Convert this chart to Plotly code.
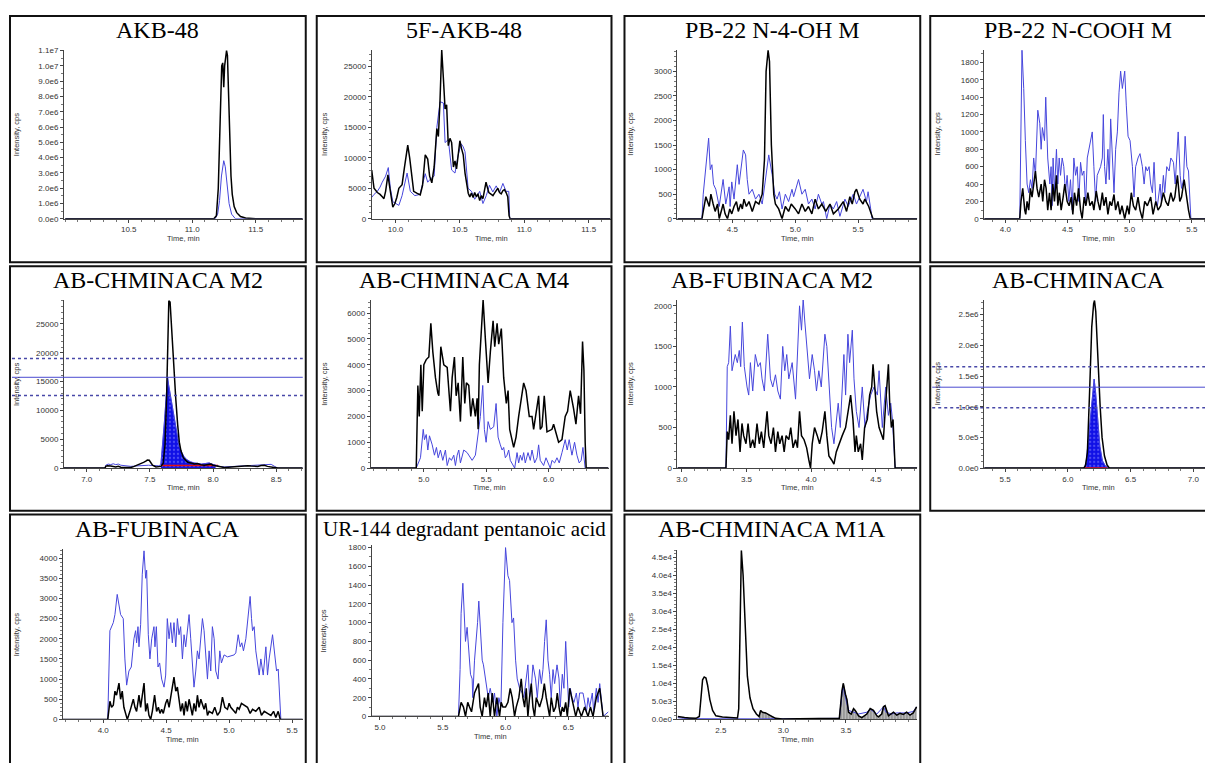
import plotly.graph_objects as go

# ======================= DATA =======================
TITLES = ["AKB-48", "5F-AKB-48", "PB-22 N-4-OH M", "PB-22 N-COOH M",
          "AB-CHMINACA M2", "AB-CHMINACA M4", "AB-FUBINACA M2", "AB-CHMINACA",
          "AB-FUBINACA", "UR-144 degradant pentanoic acid", "AB-CHMINACA M1A"]

X_RANGES = [[9.99, 11.87], [9.815, 11.67], [4.063, 5.97], [3.83, 5.67],
            [6.82, 8.71], [4.574, 6.48], [2.966, 4.82], [5.333, 7.156],
            [3.68, 5.585], [4.934, 6.82], [2.153, 4.07]]
Y_MAX = [1.107e7, 27760, 3443, 1948, 29170, 6510, 2073, 2.74e6, 4220, 1825, 4.7e4]
Y_MINOR = [5e5, 1000, 100, 100, 1000, 200, 100, 1e5, 100, 100, 1000]

X_TICKS = [[10.5, 11.0, 11.5], [10.0, 10.5, 11.0, 11.5], [4.5, 5.0, 5.5], [4.0, 4.5, 5.0, 5.5],
           [7.0, 7.5, 8.0, 8.5], [5.0, 5.5, 6.0], [3.0, 3.5, 4.0, 4.5], [5.5, 6.0, 6.5, 7.0],
           [4.0, 4.5, 5.0, 5.5], [5.0, 5.5, 6.0, 6.5], [2.5, 3.0, 3.5]]
X_TICK_LABELS = [["10.5", "11.0", "11.5"], ["10.0", "10.5", "11.0", "11.5"], ["4.5", "5.0", "5.5"],
                 ["4.0", "4.5", "5.0", "5.5"], ["7.0", "7.5", "8.0", "8.5"], ["5.0", "5.5", "6.0"],
                 ["3.0", "3.5", "4.0", "4.5"], ["5.5", "6.0", "6.5", "7.0"], ["4.0", "4.5", "5.0", "5.5"],
                 ["5.0", "5.5", "6.0", "6.5"], ["2.5", "3.0", "3.5"]]

Y_TICKS = [[0, 1e6, 2e6, 3e6, 4e6, 5e6, 6e6, 7e6, 8e6, 9e6, 1e7, 1.1e7],
           [0, 5000, 10000, 15000, 20000, 25000],
           [0, 500, 1000, 1500, 2000, 2500, 3000],
           [0, 200, 400, 600, 800, 1000, 1200, 1400, 1600, 1800],
           [0, 5000, 10000, 15000, 20000, 25000],
           [0, 1000, 2000, 3000, 4000, 5000, 6000],
           [0, 500, 1000, 1500, 2000],
           [0, 5e5, 1e6, 1.5e6, 2e6, 2.5e6],
           [0, 500, 1000, 1500, 2000, 2500, 3000, 3500, 4000],
           [0, 200, 400, 600, 800, 1000, 1200, 1400, 1600, 1800],
           [0, 5e3, 1e4, 1.5e4, 2e4, 2.5e4, 3e4, 3.5e4, 4e4, 4.5e4]]
Y_TICK_LABELS = [["0.0e0", "1.0e6", "2.0e6", "3.0e6", "4.0e6", "5.0e6", "6.0e6", "7.0e6", "8.0e6", "9.0e6", "1.0e7", "1.1e7"],
                 ["0", "5000", "10000", "15000", "20000", "25000"],
                 ["0", "500", "1000", "1500", "2000", "2500", "3000"],
                 ["0", "200", "400", "600", "800", "1000", "1200", "1400", "1600", "1800"],
                 ["0", "5000", "10000", "15000", "20000", "25000"],
                 ["0", "1000", "2000", "3000", "4000", "5000", "6000"],
                 ["0", "500", "1000", "1500", "2000"],
                 ["0.0e0", "5.0e5", "1.0e6", "1.5e6", "2.0e6", "2.5e6"],
                 ["0", "500", "1000", "1500", "2000", "2500", "3000", "3500", "4000"],
                 ["0", "200", "400", "600", "800", "1000", "1200", "1400", "1600", "1800"],
                 ["0.0e0", "5.0e3", "1.0e4", "1.5e4", "2.0e4", "2.5e4", "3.0e4", "3.5e4", "4.0e4", "4.5e4"]]

# (time [min], intensity [cps]) pairs
AKB48_BLACK = [(10.0, 0), (11.17, 0), (11.19, 2e5), (11.205, 2.0e6), (11.22, 6.5e6), (11.232, 1.0e7),
               (11.24, 1.02e7), (11.248, 8.6e6), (11.255, 1.0e7), (11.263, 1.06e7), (11.27, 1.1e7),
               (11.277, 1.07e7), (11.285, 8.5e6), (11.295, 5.0e6), (11.305, 2.8e6), (11.315, 1.6e6),
               (11.33, 8e5), (11.35, 4e5), (11.38, 1.5e5), (11.42, 5e4), (11.5, 0), (11.87, 0)]
AKB48_BLUE = [(10.0, 0), (11.18, 0), (11.2, 3e5), (11.215, 1.2e6), (11.23, 2.8e6), (11.24, 3.6e6),
              (11.248, 3.8e6), (11.26, 3.4e6), (11.275, 2.2e6), (11.29, 1.0e6), (11.31, 3e5),
              (11.34, 0), (11.87, 0)]

F5AKB_BLACK = [(9.815, 8000), (9.833, 5000), (9.859, 4300), (9.88, 4000), (9.897, 3600), (9.91, 3300),
               (9.923, 4500), (9.941, 7200), (9.955, 5200), (9.979, 1900), (9.995, 2500), (10.01, 3500),
               (10.026, 5000), (10.051, 5600), (10.07, 8500), (10.095, 12100), (10.11, 10000),
               (10.125, 7000), (10.141, 4500), (10.165, 4200), (10.192, 3900), (10.21, 5500),
               (10.231, 10500), (10.25, 9800), (10.265, 7000), (10.282, 5900), (10.3, 8500),
               (10.321, 14800), (10.333, 13500), (10.345, 19000), (10.359, 27700), (10.372, 23000),
               (10.385, 18000), (10.397, 18700), (10.41, 12000), (10.423, 13200), (10.436, 12500),
               (10.45, 8500), (10.462, 9500), (10.474, 8200), (10.487, 11000), (10.5, 12800),
               (10.513, 11500), (10.526, 10500), (10.54, 7500), (10.555, 5000), (10.565, 4200),
               (10.577, 3600), (10.59, 4200), (10.603, 3500), (10.615, 4300), (10.628, 3600),
               (10.64, 4100), (10.654, 3000), (10.666, 3800), (10.679, 3300), (10.692, 4500),
               (10.703, 6000), (10.713, 5200), (10.725, 4300), (10.744, 4000), (10.757, 3800),
               (10.769, 4200), (10.782, 4700), (10.795, 5000), (10.808, 4300), (10.821, 4100),
               (10.834, 4600), (10.846, 4800), (10.859, 4300), (10.872, 3600), (10.882, 500),
               (10.89, 0), (11.67, 0)]
F5AKB_BLUE = [(9.815, 3500), (9.833, 4000), (9.859, 4500), (9.88, 5200), (9.897, 6000), (9.923, 7000),
              (9.944, 8400), (9.96, 5000), (9.979, 2800), (10.0, 2500), (10.026, 2200), (10.051, 3800),
              (10.07, 5500), (10.09, 7500), (10.115, 4500), (10.15, 3800), (10.19, 4000), (10.21, 5500),
              (10.231, 7400), (10.25, 6000), (10.27, 6500), (10.3, 7000), (10.321, 15000),
              (10.346, 19200), (10.372, 19000), (10.385, 12500), (10.41, 13000), (10.436, 8000),
              (10.462, 7500), (10.487, 10500), (10.51, 12300), (10.526, 11800), (10.54, 11000),
              (10.564, 5000), (10.59, 4500), (10.615, 3200), (10.654, 4500), (10.679, 2500),
              (10.705, 3800), (10.73, 5500), (10.756, 4400), (10.782, 5400), (10.808, 4300),
              (10.834, 5800), (10.859, 4500), (10.88, 4500), (10.887, 0), (11.67, 0)]

PB22OH_BLACK = [(4.063, 0), (4.258, 0), (4.268, 150), (4.289, 450), (4.316, 250), (4.329, 500),
                (4.347, 300), (4.363, 150), (4.382, 300), (4.395, 0), (4.416, 200), (4.426, 300),
                (4.442, 100), (4.461, 0), (4.479, 200), (4.495, 100), (4.513, 250), (4.532, 350),
                (4.547, 150), (4.566, 300), (4.579, 200), (4.592, 400), (4.611, 250), (4.632, 350),
                (4.658, 150), (4.684, 350), (4.711, 300), (4.737, 500), (4.755, 1200), (4.768, 3000),
                (4.784, 3430), (4.795, 3200), (4.81, 1500), (4.829, 500), (4.842, 300), (4.868, 200),
                (4.895, 0), (4.921, 250), (4.947, 150), (4.968, 300), (5.0, 200), (5.026, 100),
                (5.053, 300), (5.079, 150), (5.105, 250), (5.132, 100), (5.158, 400), (5.184, 200),
                (5.211, 300), (5.242, 150), (5.276, 300), (5.303, 100), (5.342, 200), (5.382, 350),
                (5.408, 150), (5.434, 450), (5.453, 300), (5.474, 550), (5.487, 600), (5.513, 400),
                (5.539, 300), (5.553, 400), (5.584, 250), (5.605, 100), (5.618, 0), (5.97, 0)]
PB22OH_BLUE = [(4.063, 0), (4.258, 0), (4.268, 500), (4.311, 1640), (4.324, 1000), (4.337, 1100),
               (4.35, 700), (4.368, 600), (4.395, 250), (4.426, 800), (4.447, 300), (4.474, 650),
               (4.482, 250), (4.495, 750), (4.513, 400), (4.539, 1100), (4.553, 700), (4.587, 1400),
               (4.605, 1300), (4.618, 800), (4.632, 500), (4.658, 600), (4.684, 400), (4.711, 500),
               (4.737, 300), (4.763, 800), (4.789, 1300), (4.816, 900), (4.837, 500), (4.855, 400),
               (4.874, 550), (4.895, 200), (4.921, 500), (4.947, 350), (4.974, 600), (4.987, 450),
               (5.026, 800), (5.053, 500), (5.079, 600), (5.105, 300), (5.132, 400), (5.158, 200),
               (5.184, 500), (5.211, 300), (5.224, 350), (5.25, 0), (5.276, 300), (5.303, 200),
               (5.329, 350), (5.355, 50), (5.395, 400), (5.421, 250), (5.461, 500), (5.487, 300),
               (5.539, 600), (5.566, 350), (5.579, 550), (5.6, 200), (5.611, 0), (5.97, 0)]

PB22COOH_BLACK = [(3.83, 0), (4.116, 0), (4.126, 200), (4.140, 350), (4.156, 100), (4.164, 50),
                  (4.175, 200), (4.188, 100), (4.202, 350), (4.215, 250), (4.242, 550), (4.255, 350),
                  (4.269, 250), (4.288, 400), (4.301, 200), (4.315, 450), (4.328, 350), (4.341, 100),
                  (4.355, 300), (4.368, 100), (4.382, 400), (4.395, 200), (4.411, 500), (4.422, 150),
                  (4.435, 300), (4.449, 100), (4.465, 250), (4.478, 400), (4.497, 200), (4.513, 150),
                  (4.530, 250), (4.543, 50), (4.556, 300), (4.573, 150), (4.589, 350), (4.605, 100),
                  (4.618, 0), (4.634, 250), (4.648, 150), (4.664, 300), (4.680, 150), (4.699, 200),
                  (4.712, 100), (4.731, 320), (4.745, 200), (4.761, 100), (4.780, 300), (4.793, 150),
                  (4.809, 250), (4.825, 50), (4.841, 200), (4.855, 150), (4.874, 280), (4.887, 100),
                  (4.906, 200), (4.922, 50), (4.938, 150), (4.960, 0), (4.981, 150), (4.995, 50),
                  (5.013, 300), (5.030, 150), (5.048, 100), (5.067, 250), (5.083, 100), (5.102, 0),
                  (5.121, 200), (5.142, 150), (5.169, 250), (5.188, 50), (5.210, 200), (5.228, 100),
                  (5.250, 150), (5.271, 300), (5.290, 200), (5.309, 150), (5.331, 300), (5.349, 200),
                  (5.363, 250), (5.384, 500), (5.403, 200), (5.417, 250), (5.438, 450), (5.457, 250),
                  (5.473, 100), (5.487, 0), (5.67, 0)]
PB22COOH_BLUE = [(3.83, 0), (4.116, 0), (4.134, 1940), (4.148, 1500), (4.161, 900), (4.175, 400),
                 (4.188, 300), (4.202, 450), (4.215, 350), (4.228, 700), (4.242, 500), (4.261, 1250),
                 (4.277, 1100), (4.288, 800), (4.298, 1050), (4.315, 900), (4.325, 1400), (4.341, 700),
                 (4.358, 400), (4.368, 600), (4.376, 150), (4.384, 700), (4.395, 300), (4.411, 800),
                 (4.422, 400), (4.433, 700), (4.444, 500), (4.457, 700), (4.470, 600), (4.484, 300),
                 (4.497, 500), (4.511, 200), (4.524, 450), (4.538, 100), (4.551, 700), (4.565, 500),
                 (4.578, 600), (4.591, 200), (4.605, 650), (4.618, 500), (4.632, 550), (4.645, 150),
                 (4.659, 700), (4.672, 800), (4.699, 1000), (4.712, 600), (4.726, 200), (4.739, 500),
                 (4.766, 600), (4.780, 700), (4.788, 1200), (4.798, 600), (4.809, 400), (4.825, 800),
                 (4.836, 450), (4.847, 1150), (4.863, 500), (4.874, 300), (4.887, 800), (4.901, 1000),
                 (4.914, 1450), (4.927, 1700), (4.941, 1500), (4.960, 1700), (4.973, 1300),
                 (4.987, 950), (5.003, 900), (5.022, 600), (5.035, 250), (5.048, 600), (5.067, 700),
                 (5.083, 750), (5.102, 600), (5.116, 400), (5.129, 600), (5.142, 550), (5.156, 600),
                 (5.169, 400), (5.183, 300), (5.196, 650), (5.210, 200), (5.223, 150), (5.245, 400),
                 (5.255, 200), (5.271, 500), (5.282, 300), (5.298, 600), (5.317, 550), (5.331, 700),
                 (5.352, 650), (5.366, 400), (5.390, 1000), (5.406, 500), (5.417, 350), (5.433, 450),
                 (5.446, 950), (5.460, 600), (5.473, 550), (5.492, 0), (5.67, 0)]

CHM_M2_BLACK = [(6.82, 0), (7.145, 0), (7.151, 300), (7.164, 400), (7.19, 350), (7.21, 300), (7.23, 200),
                (7.25, 300), (7.27, 150), (7.30, 100), (7.323, 150), (7.35, 100), (7.376, 300),
                (7.40, 500), (7.429, 700), (7.45, 1000), (7.468, 1200), (7.48, 1400), (7.495, 1350),
                (7.51, 900), (7.521, 500), (7.548, 200), (7.57, 250), (7.587, 300), (7.605, 800),
                (7.62, 4000), (7.632, 12000), (7.642, 22000), (7.65, 29000), (7.66, 28800),
                (7.667, 26000), (7.68, 22000), (7.693, 17000), (7.705, 12000), (7.72, 7500),
                (7.733, 4500), (7.746, 3000), (7.765, 1800), (7.786, 1300), (7.80, 1000), (7.825, 900),
                (7.85, 700), (7.878, 800), (7.90, 600), (7.93, 500), (7.958, 600), (7.984, 700),
                (8.00, 500), (8.037, 300), (8.06, 200), (8.09, 100), (8.12, 150), (8.143, 200),
                (8.18, 250), (8.21, 300), (8.24, 350), (8.275, 400), (8.30, 350), (8.33, 250),
                (8.354, 300), (8.38, 450), (8.407, 500), (8.43, 300), (8.46, 200), (8.487, 100),
                (8.513, 0), (8.71, 0)]
CHM_M2_BLUE = [(6.82, 0), (7.145, 0), (7.151, 500), (7.17, 700), (7.19, 600), (7.21, 750), (7.23, 600),
               (7.25, 700), (7.27, 500), (7.30, 400), (7.323, 350), (7.35, 300), (7.376, 350),
               (7.40, 400), (7.429, 450), (7.46, 500), (7.49, 500), (7.52, 450), (7.548, 400),
               (7.57, 400), (7.587, 600), (7.60, 3500), (7.615, 8000), (7.628, 12000), (7.64, 15800),
               (7.648, 14500), (7.66, 13000), (7.675, 11000), (7.693, 8500), (7.71, 6000),
               (7.73, 4000), (7.75, 2800), (7.77, 2000), (7.79, 1500), (7.82, 1100), (7.85, 900),
               (7.878, 800), (7.91, 700), (7.94, 800), (7.97, 900), (7.99, 700), (8.02, 500),
               (8.05, 300), (8.09, 200), (8.14, 250), (8.2, 300), (8.26, 400), (8.32, 450),
               (8.38, 500), (8.42, 600), (8.46, 650), (8.487, 300), (8.513, 0), (8.71, 0)]
CHM_M2_LIMITS = [19000, 15750, 12580]          # upper / expected / lower ion ratio lines
CHM_M2_PEAK = [(7.587, 450), (8.04, 450)]      # integration baseline (start, end)

CHM_M4_BLACK = [(4.574, 0), (4.939, 0), (4.952, 3200), (4.963, 2000), (4.976, 4000), (4.987, 2200),
                (5.0, 4000), (5.019, 4200), (5.04, 4300), (5.056, 5600), (5.072, 4500), (5.093, 3500),
                (5.112, 2900), (5.12, 2800), (5.136, 4700), (5.16, 4000), (5.187, 3900), (5.213, 2200),
                (5.227, 3500), (5.245, 4300), (5.259, 2800), (5.275, 3300), (5.293, 1800),
                (5.312, 4300), (5.328, 2500), (5.341, 3300), (5.36, 3200), (5.376, 2000),
                (5.392, 2700), (5.413, 2000), (5.427, 2700), (5.435, 1500), (5.445, 4000),
                (5.459, 5000), (5.475, 6500), (5.493, 5000), (5.515, 3300), (5.533, 4500),
                (5.555, 5700), (5.568, 4700), (5.587, 5600), (5.6, 4800), (5.621, 5400), (5.64, 3500),
                (5.661, 2500), (5.675, 3000), (5.688, 1500), (5.72, 800), (5.739, 1200), (5.76, 2000),
                (5.8, 3300), (5.819, 3000), (5.845, 2000), (5.867, 2000), (5.88, 1500), (5.92, 2800),
                (5.933, 1500), (5.947, 1600), (5.965, 2800), (5.987, 1400), (6.027, 1500),
                (6.04, 1700), (6.08, 1000), (6.107, 1100), (6.133, 2000), (6.152, 2200),
                (6.173, 3000), (6.2, 2300), (6.219, 1700), (6.24, 2800), (6.256, 2100), (6.272, 4900),
                (6.283, 3800), (6.293, 1000), (6.301, 0), (6.48, 0)]
CHM_M4_BLUE = [(4.574, 0), (4.939, 0), (4.973, 400), (4.995, 1500), (5.005, 1100), (5.019, 1300),
               (5.032, 700), (5.045, 1250), (5.067, 900), (5.085, 500), (5.101, 800), (5.115, 400),
               (5.133, 700), (5.152, 300), (5.173, 700), (5.187, 100), (5.205, 400), (5.221, 300),
               (5.24, 500), (5.253, 100), (5.267, 500), (5.28, 700), (5.293, 200), (5.307, 500),
               (5.32, 700), (5.347, 600), (5.373, 400), (5.387, 300), (5.413, 500), (5.44, 1500),
               (5.453, 2000), (5.472, 3200), (5.485, 1500), (5.499, 1000), (5.515, 1800),
               (5.533, 1500), (5.56, 1600), (5.579, 2500), (5.595, 1200), (5.613, 900), (5.627, 700),
               (5.64, 800), (5.653, 400), (5.667, 500), (5.68, 700), (5.693, 300), (5.728, 0),
               (5.747, 600), (5.76, 200), (5.773, 500), (5.787, 300), (5.8, 600), (5.813, 200),
               (5.835, 600), (5.853, 300), (5.867, 700), (5.888, 200), (5.907, 400), (5.92, 900),
               (5.933, 300), (5.96, 100), (5.979, 400), (5.995, 200), (6.013, 0), (6.027, 300),
               (6.048, 200), (6.067, 400), (6.085, 200), (6.107, 600), (6.133, 1100), (6.149, 700),
               (6.165, 1100), (6.187, 500), (6.208, 1000), (6.227, 500), (6.245, 200), (6.261, 300),
               (6.275, 800), (6.293, 0), (6.48, 0)]

FUB_M2_BLACK = [(2.966, 0), (3.341, 0), (3.351, 450), (3.362, 350), (3.375, 650), (3.388, 300),
                (3.403, 700), (3.419, 400), (3.434, 600), (3.45, 200), (3.465, 550), (3.478, 400),
                (3.496, 300), (3.512, 550), (3.53, 250), (3.548, 350), (3.563, 250), (3.581, 550),
                (3.599, 300), (3.615, 450), (3.633, 250), (3.659, 700), (3.672, 400), (3.69, 300),
                (3.708, 500), (3.724, 200), (3.742, 450), (3.757, 300), (3.775, 400), (3.791, 200),
                (3.806, 400), (3.827, 350), (3.842, 500), (3.86, 250), (3.879, 350), (3.894, 250),
                (3.91, 700), (3.925, 400), (3.945, 350), (3.965, 250), (3.982, 100), (3.995, 0),
                (4.008, 300), (4.026, 500), (4.047, 400), (4.065, 300), (4.085, 450), (4.106, 700),
                (4.121, 400), (4.137, 150), (4.158, 100), (4.176, 50), (4.194, 200), (4.214, 300),
                (4.24, 400), (4.266, 500), (4.292, 800), (4.305, 900), (4.323, 600), (4.339, 200),
                (4.349, 400), (4.364, 200), (4.382, 300), (4.395, 100), (4.413, 500), (4.434, 600),
                (4.452, 900), (4.468, 1000), (4.478, 1280), (4.494, 900), (4.506, 700), (4.525, 500),
                (4.543, 400), (4.558, 350), (4.576, 800), (4.597, 1280), (4.607, 800), (4.62, 500),
                (4.633, 600), (4.649, 0), (4.82, 0)]
FUB_M2_BLUE = [(2.966, 0), (3.341, 0), (3.351, 1250), (3.362, 1300), (3.375, 1750), (3.388, 1200),
               (3.413, 1400), (3.429, 1300), (3.444, 1450), (3.455, 1250), (3.468, 1800),
               (3.483, 1250), (3.504, 1000), (3.517, 900), (3.53, 1300), (3.548, 950), (3.568, 1400),
               (3.589, 1250), (3.607, 1300), (3.62, 1100), (3.638, 950), (3.664, 1650), (3.685, 1100),
               (3.703, 1000), (3.724, 1150), (3.742, 950), (3.762, 850), (3.78, 1500), (3.796, 1200),
               (3.811, 1400), (3.827, 1100), (3.853, 1300), (3.879, 850), (3.91, 2000), (3.925, 1700),
               (3.938, 2080), (3.951, 1800), (3.969, 1400), (3.987, 1100), (4.008, 1400),
               (4.026, 1200), (4.041, 950), (4.059, 1200), (4.078, 1000), (4.106, 1650),
               (4.121, 1500), (4.137, 1000), (4.158, 500), (4.176, 300), (4.194, 600), (4.209, 800),
               (4.225, 500), (4.253, 1400), (4.266, 900), (4.284, 1650), (4.297, 1300), (4.318, 1700),
               (4.331, 1100), (4.349, 700), (4.37, 500), (4.395, 1000), (4.416, 500), (4.434, 700),
               (4.46, 900), (4.486, 1000), (4.512, 900), (4.525, 1200), (4.55, 500), (4.576, 1000),
               (4.597, 650), (4.615, 800), (4.628, 600), (4.649, 0), (4.82, 0)]

CHM_BLACK = [(5.333, 0), (6.125, 0), (6.14, 4e4), (6.155, 2.5e5), (6.172, 1.2e6), (6.19, 2.3e6),
             (6.205, 2.68e6), (6.212, 2.73e6), (6.222, 2.55e6), (6.238, 1.8e6), (6.257, 1.0e6),
             (6.272, 5e5), (6.291, 2e5), (6.312, 5e4), (6.331, 0), (7.156, 0)]
CHM_BLUE = [(5.333, 0), (6.13, 0), (6.146, 1e5), (6.165, 5e5), (6.19, 1.05e6), (6.209, 1.45e6),
            (6.22, 1.25e6), (6.235, 8e5), (6.255, 3.5e5), (6.275, 1.2e5), (6.30, 3e4), (6.331, 0),
            (7.156, 0)]
CHM_LIMITS = [1.65e6, 1.318e6, 0.984e6]
CHM_PEAK = [(6.13, 0), (6.335, 0)]

FUB_BLACK = [(3.68, 0), (4.036, 0), (4.053, 450), (4.066, 300), (4.08, 350), (4.093, 700), (4.106, 600),
             (4.125, 900), (4.138, 500), (4.151, 700), (4.164, 300), (4.178, 100), (4.191, 0),
             (4.212, 200), (4.239, 500), (4.252, 300), (4.265, 200), (4.284, 600), (4.297, 300),
             (4.324, 900), (4.337, 200), (4.35, 400), (4.363, 100), (4.377, 0), (4.39, 200),
             (4.408, 600), (4.424, 200), (4.438, 300), (4.451, 150), (4.464, 250), (4.477, 150),
             (4.496, 400), (4.509, 500), (4.523, 300), (4.536, 600), (4.549, 800), (4.562, 1050),
             (4.576, 700), (4.589, 800), (4.602, 500), (4.615, 200), (4.629, 400), (4.642, 100),
             (4.655, 450), (4.668, 200), (4.682, 500), (4.695, 300), (4.708, 100), (4.721, 400),
             (4.735, 200), (4.748, 600), (4.761, 300), (4.775, 500), (4.788, 400), (4.801, 250),
             (4.814, 400), (4.828, 100), (4.841, 200), (4.867, 150), (4.886, 300), (4.907, 100),
             (4.928, 200), (4.947, 550), (4.966, 300), (4.987, 250), (5.0, 400), (5.013, 300),
             (5.04, 200), (5.053, 150), (5.066, 300), (5.08, 250), (5.098, 400), (5.119, 350),
             (5.146, 300), (5.167, 150), (5.186, 250), (5.212, 200), (5.239, 300), (5.257, 100),
             (5.279, 200), (5.305, 150), (5.332, 100), (5.353, 200), (5.371, 50), (5.39, 200),
             (5.406, 0), (5.585, 0)]
FUB_BLUE = [(3.68, 0), (4.036, 0), (4.053, 2200), (4.08, 2400), (4.093, 2600), (4.111, 3100),
            (4.138, 2600), (4.159, 2500), (4.172, 1500), (4.186, 850), (4.204, 1200), (4.223, 1300),
            (4.244, 2000), (4.257, 2200), (4.265, 1900), (4.276, 2300), (4.284, 1800), (4.297, 2350),
            (4.31, 3600), (4.324, 4180), (4.337, 3500), (4.345, 3700), (4.358, 2100), (4.371, 1500),
            (4.385, 2000), (4.403, 2300), (4.411, 1800), (4.422, 2300), (4.435, 1300), (4.448, 1400),
            (4.464, 1000), (4.483, 800), (4.496, 1100), (4.509, 2500), (4.523, 2000), (4.536, 2400),
            (4.549, 1900), (4.562, 2400), (4.576, 1800), (4.589, 2500), (4.602, 2100), (4.615, 2300),
            (4.629, 1500), (4.642, 2100), (4.655, 1800), (4.682, 2600), (4.695, 2000), (4.708, 1400),
            (4.721, 800), (4.735, 1200), (4.748, 1700), (4.761, 1500), (4.788, 2500), (4.801, 2200),
            (4.814, 1500), (4.828, 1000), (4.841, 1700), (4.854, 1200), (4.867, 2300), (4.881, 2000),
            (4.894, 1200), (4.912, 1000), (4.926, 1700), (4.939, 1400), (4.96, 1600), (4.987, 1550),
            (5.04, 1600), (5.053, 1650), (5.072, 2100), (5.088, 1800), (5.101, 1900), (5.114, 1700),
            (5.133, 2000), (5.159, 2900), (5.167, 3050), (5.178, 2500), (5.186, 2200), (5.199, 2300),
            (5.212, 1700), (5.239, 1100), (5.252, 1500), (5.271, 1100), (5.292, 1800), (5.305, 1100),
            (5.318, 1500), (5.345, 2100), (5.363, 1600), (5.377, 1200), (5.39, 1250), (5.411, 0),
            (5.585, 0)]

UR144_BLACK = [(4.934, 0), (5.625, 0), (5.646, 150), (5.665, 100), (5.681, 0), (5.699, 150),
               (5.713, 100), (5.729, 50), (5.753, 250), (5.766, 300), (5.785, 350), (5.798, 100),
               (5.814, 0), (5.832, 200), (5.846, 100), (5.862, 250), (5.878, 0), (5.894, 250),
               (5.912, 0), (5.931, 200), (5.952, 0), (5.965, 150), (5.979, 100), (6.0, 100),
               (6.019, 150), (6.037, 300), (6.053, 200), (6.072, 0), (6.085, 100), (6.106, 200),
               (6.125, 400), (6.138, 200), (6.152, 100), (6.165, 300), (6.178, 0), (6.191, 200),
               (6.205, 350), (6.218, 100), (6.231, 0), (6.245, 200), (6.271, 100), (6.293, 200),
               (6.309, 350), (6.324, 200), (6.338, 100), (6.351, 0), (6.364, 200), (6.383, 50),
               (6.399, 100), (6.412, 250), (6.426, 100), (6.439, 0), (6.452, 100), (6.465, 50),
               (6.479, 150), (6.492, 0), (6.511, 300), (6.529, 200), (6.545, 100), (6.559, 0),
               (6.577, 100), (6.604, 0), (6.63, 100), (6.657, 0), (6.676, 100), (6.697, 0),
               (6.723, 200), (6.75, 300), (6.777, 0), (6.82, 0)]
UR144_BLUE = [(4.934, 0), (5.625, 0), (5.638, 500), (5.646, 1100), (5.66, 1420), (5.673, 1100),
              (5.681, 800), (5.694, 950), (5.705, 700), (5.721, 450), (5.734, 400), (5.739, 200),
              (5.753, 600), (5.766, 800), (5.777, 1000), (5.787, 1230), (5.798, 1000), (5.814, 600),
              (5.824, 550), (5.84, 400), (5.851, 350), (5.862, 200), (5.878, 300), (5.899, 150),
              (5.912, 250), (5.931, 0), (5.947, 200), (5.963, 100), (5.979, 1000), (6.0, 1800),
              (6.019, 1500), (6.032, 1450), (6.051, 1000), (6.064, 1050), (6.08, 600), (6.093, 400),
              (6.112, 300), (6.133, 250), (6.146, 200), (6.165, 400), (6.178, 550), (6.191, 200),
              (6.205, 300), (6.218, 550), (6.239, 400), (6.253, 200), (6.271, 500), (6.285, 350),
              (6.298, 500), (6.311, 800), (6.324, 1030), (6.338, 600), (6.351, 450), (6.364, 200),
              (6.378, 500), (6.391, 350), (6.41, 550), (6.426, 400), (6.436, 100), (6.452, 450),
              (6.465, 300), (6.479, 800), (6.492, 400), (6.503, 100), (6.516, 300), (6.529, 200),
              (6.545, 150), (6.564, 250), (6.577, 100), (6.59, 250), (6.617, 250), (6.63, 150),
              (6.644, 50), (6.657, 200), (6.67, 100), (6.691, 250), (6.702, 50), (6.723, 300),
              (6.737, 150), (6.75, 350), (6.777, 0), (6.82, 50)]

M1A_BLACK = [(2.155, 800), (2.18, 600), (2.21, 500), (2.248, 400), (2.28, 300), (2.301, 300),
             (2.328, 800), (2.341, 6000), (2.354, 11000), (2.367, 11800), (2.381, 11500),
             (2.394, 9500), (2.412, 5500), (2.434, 2500), (2.46, 1000), (2.513, 700), (2.58, 500),
             (2.633, 400), (2.643, 3000), (2.651, 20000), (2.664, 47000), (2.678, 40000),
             (2.694, 25000), (2.712, 12000), (2.733, 6000), (2.757, 3000), (2.784, 1500),
             (2.805, 800), (2.818, 2500), (2.832, 2000), (2.858, 1800), (2.885, 1200), (2.911, 800),
             (2.938, 300), (2.991, 100), (3.123, 200), (3.256, 300), (3.389, 200), (3.447, 300),
             (3.468, 8000), (3.479, 10000), (3.496, 7000), (3.508, 5500), (3.521, 2000),
             (3.542, 1500), (3.561, 3000), (3.574, 2500), (3.601, 1000), (3.627, 500), (3.667, 1500),
             (3.694, 3000), (3.72, 2500), (3.747, 1000), (3.76, 700), (3.786, 1500), (3.8, 3500),
             (3.813, 3800), (3.84, 1000), (3.866, 1500), (3.88, 2000), (3.906, 1200), (3.932, 1700),
             (3.959, 1400), (3.985, 2000), (4.012, 1200), (4.038, 1800), (4.065, 3500)]
M1A_BLUE = [(2.155, 500), (2.2, 300), (2.3, 200), (2.4, 150), (2.6, 150), (2.8, 150), (3.0, 200),
            (3.2, 250), (3.4, 200), (3.447, 300), (3.468, 7000), (3.479, 9000), (3.496, 6000),
            (3.521, 2500), (3.561, 2000), (3.6, 1500), (3.667, 2000), (3.694, 2800), (3.747, 1500),
            (3.8, 3500), (3.82, 2000), (3.866, 1500), (3.906, 1800), (3.95, 1800), (3.985, 1800),
            (4.038, 2200), (4.065, 3500)]
M1A_HATCH = [(2.805, 2.96), (3.447, 4.07)]   # time windows drawn hatched

SERIES = [(AKB48_BLUE, AKB48_BLACK), (F5AKB_BLUE, F5AKB_BLACK), (PB22OH_BLUE, PB22OH_BLACK),
          (PB22COOH_BLUE, PB22COOH_BLACK), (CHM_M2_BLUE, CHM_M2_BLACK), (CHM_M4_BLUE, CHM_M4_BLACK),
          (FUB_M2_BLUE, FUB_M2_BLACK), (CHM_BLUE, CHM_BLACK), (FUB_BLUE, FUB_BLACK),
          (UR144_BLUE, UR144_BLACK), (M1A_BLUE, M1A_BLACK)]

# ======================= LAYOUT (page pixels) =======================
PAGE_W, PAGE_H = 1213, 763
OFF = 8                        # default body margin of the written page
W, H = PAGE_W - OFF, PAGE_H - OFF
PLOT_BOXES = [(63, 302, 47, 218), (371, 610, 47, 218), (677, 917, 47, 218), (984, 1213, 47, 218),
              (63, 302, 300, 470), (370, 608, 300, 470), (677, 917, 300, 470), (984, 1213, 300, 470),
              (62, 302, 552, 724), (371, 608, 548, 721), (677, 917, 553, 724)]
COL_X = [(9, 305), (316, 611), (624, 920), (930, 1226)]
ROW_Y = [(13, 262), (266, 513), (517, 775)]
TITLE_Y = [27, 280, 531.5]
TITLE_SIZE = [24, 24, 24, 24, 24, 24, 24, 24, 24, 21, 24]
YLABEL_X = [15, 323, 630, 937]

BLUE = "#4646dc"
BLACK = "#000000"
AX = "#444444"
TICKFONT = dict(family="Liberation Sans, Arial, sans-serif", size=8, color="#333333")
LABELFONT = dict(family="Liberation Sans, Arial, sans-serif", size=7.5, color="#333333")


def px(x):
    return (x - OFF) / W


def py(y):
    return 1 - (y - OFF) / H


def xs(pairs):
    return [p[0] for p in pairs]


def ys(pairs):
    return [p[1] for p in pairs]


fig = go.Figure()
layout = dict(width=W, height=H, margin=dict(l=0, r=0, t=0, b=0),
              paper_bgcolor="white", plot_bgcolor="white", showlegend=False)
shapes = []
annotations = []

for i in range(11):
    l, r, t, b = PLOT_BOXES[i]
    row, col = divmod(i, 4)
    sfx = "" if i == 0 else str(i + 1)
    xref, yref = "x" + sfx, "y" + sfx
    layout["xaxis" + sfx] = dict(
        domain=[max(0, px(l)), min(1, px(r))], range=X_RANGES[i], anchor=yref, showgrid=False,
        zeroline=False, showline=True, linecolor=AX, linewidth=1, ticks="outside", ticklen=3,
        tickcolor=AX, tickvals=X_TICKS[i], ticktext=X_TICK_LABELS[i], tickfont=TICKFONT,
        minor=dict(ticks="outside", ticklen=2, tickcolor="#777777", dtick=0.1, tick0=0),
        fixedrange=True)
    layout["yaxis" + sfx] = dict(
        domain=[max(0, py(b)), min(1, py(t))], range=[0, Y_MAX[i]], anchor=xref, showgrid=False,
        zeroline=False, showline=True, linecolor=AX, linewidth=1, ticks="outside", ticklen=3,
        tickcolor=AX, tickvals=Y_TICKS[i], ticktext=Y_TICK_LABELS[i], tickfont=TICKFONT,
        minor=dict(ticks="outside", ticklen=2, tickcolor="#777777", dtick=Y_MINOR[i], tick0=0),
        fixedrange=True)

    blue, black = SERIES[i]

    # integrated peak (blue dotted fill + red baseline)
    if i in (4, 7):
        peak = CHM_M2_PEAK if i == 4 else CHM_PEAK
        t0, t1 = peak[0][0], peak[1][0]
        sel = [p for p in blue if t0 <= p[0] <= t1]
        fig.add_trace(go.Scatter(x=xs(sel), y=ys(sel), xaxis=xref, yaxis=yref, mode="lines",
                                 line=dict(color="#1010e6", width=0.5), fill="tozeroy",
                                 fillcolor="#1010e6",
                                 fillpattern=dict(shape=".", bgcolor="#1010e6", fgcolor="#8a8aff",
                                                  size=4, solidity=0.25),
                                 hoverinfo="skip"))
        fig.add_trace(go.Scatter(x=xs(peak), y=ys(peak), xaxis=xref, yaxis=yref, mode="lines",
                                 line=dict(color="#e01010", width=1.5), hoverinfo="skip"))

    # hatched areas in M1A
    if i == 10:
        for (t0, t1) in M1A_HATCH:
            sel = [p for p in black if t0 <= p[0] <= t1]
            fig.add_trace(go.Scatter(x=xs(sel), y=ys(sel), xaxis=xref, yaxis=yref, mode="lines",
                                     line=dict(color=BLACK, width=0.5), fill="tozeroy",
                                     fillcolor="rgba(0,0,0,0)",
                                     fillpattern=dict(shape="|", fgcolor="#000000",
                                                      bgcolor="rgba(255,255,255,0)",
                                                      size=3, solidity=0.7),
                                     hoverinfo="skip"))

    fig.add_trace(go.Scatter(x=xs(blue), y=ys(blue), xaxis=xref, yaxis=yref, mode="lines",
                             line=dict(color=BLUE, width=1), hoverinfo="skip"))
    fig.add_trace(go.Scatter(x=xs(black), y=ys(black), xaxis=xref, yaxis=yref, mode="lines",
                             line=dict(color=BLACK, width=1.5), hoverinfo="skip"))

    # ion-ratio tolerance lines spanning the whole panel width
    if i in (4, 7):
        lims = CHM_M2_LIMITS if i == 4 else CHM_LIMITS
        for k, v in enumerate(lims):
            shapes.append(dict(type="line", xref="paper", yref=yref, x0=px(COL_X[col][0] + 2),
                               x1=min(1, px(r)), y0=v, y1=v,
                               line=dict(color="#4a4ad0" if k == 1 else "#4848a8",
                                         width=1 if k == 1 else 1.5,
                                         dash="solid" if k == 1 else "dot")))

    # panel frame
    x0, x1 = COL_X[col]
    y0, y1 = ROW_Y[row]
    shapes.append(dict(type="rect", xref="paper", yref="paper", x0=px(x0), x1=px(x1),
                       y0=py(y1), y1=py(y0), line=dict(color="#111111", width=2)))

    # titles and axis labels
    annotations.append(dict(text=TITLES[i], xref="paper", yref="paper", x=px((x0 + x1) / 2),
                            y=py(TITLE_Y[row]), xanchor="center", yanchor="middle",
                            showarrow=False,
                            font=dict(family="Liberation Serif, Times New Roman, serif",
                                      size=TITLE_SIZE[i], color="#000000")))
    annotations.append(dict(text="Time, min", xref="paper", yref="paper", x=px((l + r) / 2),
                            y=py(b + 20), xanchor="center", yanchor="middle", showarrow=False,
                            font=LABELFONT))
    annotations.append(dict(text="Intensity, cps", xref="paper", yref="paper", x=px(YLABEL_X[col]),
                            y=py((t + b) / 2), xanchor="center", yanchor="middle", showarrow=False,
                            textangle=-90, font=LABELFONT))

layout["shapes"] = shapes
layout["annotations"] = annotations
fig.update_layout(**layout)
fig.write_html("out.html")
